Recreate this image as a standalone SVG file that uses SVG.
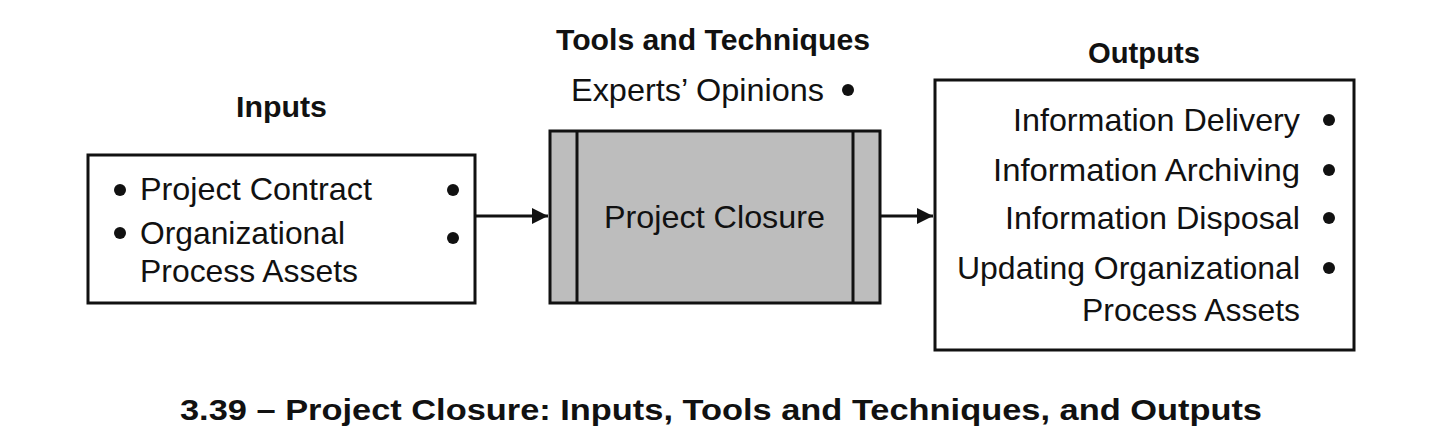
<svg xmlns="http://www.w3.org/2000/svg" width="1430" height="438" viewBox="0 0 1430 438">
<style>
text{font-family:"Liberation Sans",Arial,sans-serif;fill:#111}
.t{font-size:32px}
.b{font-size:30px;font-weight:bold}
.box{fill:#fff;stroke:#111;stroke-width:3}
.dot{fill:#111}
.c{stroke:#111;stroke-width:3;fill:none}
</style>
<defs><marker id="ah" markerWidth="10" markerHeight="10" refX="9" refY="5" orient="auto" markerUnits="userSpaceOnUse" viewBox="0 0 10 10"><path d="M0,0 L10,5 L0,10 z" fill="#111"/></marker>
<marker id="a2" viewBox="0 0 10 10" refX="10" refY="5" markerWidth="16" markerHeight="16" orient="auto" markerUnits="userSpaceOnUse"><path d="M0,0 L10,5 L0,10 z" fill="#111"/></marker></defs>
<rect width="1430" height="438" fill="#fff"/>
<g id="inputs">
<text class="b" x="236" y="117" textLength="91" lengthAdjust="spacingAndGlyphs">Inputs</text>
<rect class="box" x="88" y="155" width="387" height="148"/>
<circle class="dot" cx="120" cy="190" r="6"/><circle class="dot" cx="120" cy="233" r="6"/>
<circle class="dot" cx="453" cy="190" r="6"/><circle class="dot" cx="453" cy="238" r="6"/>
<text class="t" x="140" y="200" textLength="232" lengthAdjust="spacingAndGlyphs">Project Contract</text>
<text class="t" x="140" y="244" textLength="205" lengthAdjust="spacingAndGlyphs">Organizational</text>
<text class="t" x="140" y="282" textLength="218" lengthAdjust="spacingAndGlyphs">Process Assets</text>
</g>
<g id="process">
<text class="b" x="556" y="50" textLength="314" lengthAdjust="spacingAndGlyphs">Tools and Techniques</text>
<text class="t" x="571" y="101" textLength="253" lengthAdjust="spacingAndGlyphs">Experts’ Opinions</text>
<circle class="dot" cx="848" cy="90" r="6"/>
<rect x="550" y="131" width="330" height="172" fill="#bdbdbd" stroke="#111" stroke-width="3"/>
<line class="c" x1="577" y1="131" x2="577" y2="303"/><line class="c" x1="853" y1="131" x2="853" y2="303"/>
<text class="t" x="604" y="228" textLength="221" lengthAdjust="spacingAndGlyphs">Project Closure</text>
</g>
<g id="outputs">
<text class="b" x="1088" y="63" textLength="112" lengthAdjust="spacingAndGlyphs">Outputs</text>
<rect class="box" x="935" y="80" width="419" height="270"/>
<text class="t" x="1013" y="131" textLength="287" lengthAdjust="spacingAndGlyphs">Information Delivery</text>
<text class="t" x="993" y="181" textLength="307" lengthAdjust="spacingAndGlyphs">Information Archiving</text>
<text class="t" x="1005" y="229" textLength="295" lengthAdjust="spacingAndGlyphs">Information Disposal</text>
<text class="t" x="957" y="279" textLength="343" lengthAdjust="spacingAndGlyphs">Updating Organizational</text>
<text class="t" x="1082" y="321" textLength="218" lengthAdjust="spacingAndGlyphs">Process Assets</text>
<circle class="dot" cx="1329" cy="120" r="6"/><circle class="dot" cx="1329" cy="170" r="6"/>
<circle class="dot" cx="1329" cy="218" r="6"/><circle class="dot" cx="1329" cy="268" r="6"/>
</g>
<g id="connectors">
<line class="c" x1="475" y1="216" x2="548" y2="216" marker-end="url(#a2)"/>
<line class="c" x1="880" y1="216" x2="933" y2="216" marker-end="url(#a2)"/>
</g>
<text class="b" x="180" y="420" font-size="32" textLength="1082" lengthAdjust="spacingAndGlyphs">3.39 – Project Closure: Inputs, Tools and Techniques, and Outputs</text>
</svg>
